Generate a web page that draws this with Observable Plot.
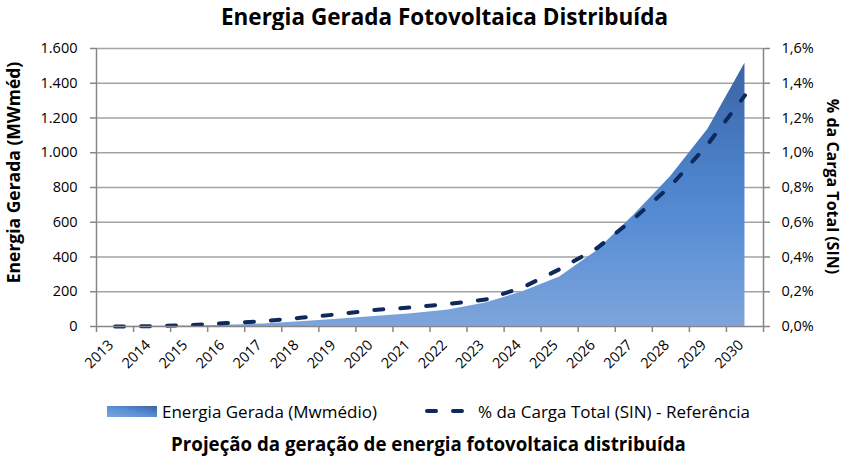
<!DOCTYPE html>
<html>
<head>
<meta charset="utf-8">
<script src="https://cdn.jsdelivr.net/npm/d3@7"></script>
<script src="https://cdn.jsdelivr.net/npm/@observablehq/plot@0.6"></script>
<style>
  html, body { margin: 0; padding: 0; background: #fff; }
  body { width: 845px; height: 468px; position: relative; overflow: hidden; font-family: "Open Sans", Lato, sans-serif; color: #000; }
  #title { position: absolute; top: 2px; left: 22px; width: 845px; text-align: center; font-weight: bold; font-size: 22.5px; line-height: 30px; }
  #chart { position: absolute; top: 30px; left: 0; }
  #legend { position: absolute; top: 400px; left: 0; width: 845px; height: 22px; font-size: 17px; }
  #legend .item { position: absolute; top: 0; display: flex; align-items: center; height: 22px; white-space: nowrap; }
  #caption { position: absolute; top: 431px; left: 6px; width: 845px; text-align: center; font-weight: bold; font-size: 18.7px; line-height: 26px; }
</style>
</head>
<body>
<div id="title"></div>
<div id="chart"></div>
<div id="legend"></div>
<div id="caption"></div>
<script>
// ---- Data ----
const years = [2013, 2014, 2015, 2016, 2017, 2018, 2019, 2020, 2021, 2022, 2023, 2024, 2025, 2026, 2027, 2028, 2029, 2030];
const energiaGerada = [0, 1, 3, 7, 14, 27, 42, 57, 74, 95, 135, 200, 285, 435, 640, 865, 1135, 1515]; // MWmédio
const cargaPct = [0, 0.002, 0.008, 0.02, 0.03, 0.05, 0.07, 0.095, 0.11, 0.13, 0.155, 0.225, 0.33, 0.45, 0.62, 0.81, 1.05, 1.33]; // % da Carga Total (SIN)
const yTicks = [0, 200, 400, 600, 800, 1000, 1200, 1400, 1600];
const yTickLabels = ["0", "200", "400", "600", "800", "1.000", "1.200", "1.400", "1.600"];
const pctTicks = [0, 0.2, 0.4, 0.6, 0.8, 1.0, 1.2, 1.4, 1.6];
const pctTickLabels = ["0,0%", "0,2%", "0,4%", "0,6%", "0,8%", "1,0%", "1,2%", "1,4%", "1,6%"];
const titleText = "Energia Gerada Fotovoltaica Distribuída";
const yLeftTitle = "Energia Gerada (MWméd)";
const yRightTitle = "% da Carga Total (SIN)";
const seriesNames = ["Energia Gerada (Mwmédio)", "% da Carga Total (SIN) - Referência"];
const captionText = "Projeção da geração de energia fotovoltaica distribuída";

// secondary axis: 1,6% corresponds to 1.600 on the primary axis
const pctFactor = yTicks[yTicks.length - 1] / pctTicks[pctTicks.length - 1];

const data = years.map((y, i) => ({ year: y, energia: energiaGerada[i], pct: cargaPct[i] }));
const boundaries = [years[0] - 0.5, ...years.map(y => y + 0.5)];
const leftLabel = new Map(yTicks.map((t, i) => [t, yTickLabels[i]]));
const rightLabel = new Map(pctTicks.map((t, i) => [t * pctFactor, pctTickLabels[i]]));

const lineColor = "#0e2a5c";
const axisColor = "#868686";
const gridColor = "#a3a3a3";
const font = "'Open Sans', Lato, sans-serif";

const H = 362;
const chart = Plot.plot({
  width: 845,
  height: H,
  marginTop: 18,
  marginBottom: 66,
  marginLeft: 96,
  marginRight: 82,
  style: { fontFamily: font, fontSize: "14.5px", color: "#000", background: "#fff", overflow: "visible" },
  x: { type: "linear", domain: [boundaries[0], boundaries[boundaries.length - 1]] },
  y: { domain: [yTicks[0], yTicks[yTicks.length - 1]] },
  marks: [
    Plot.ruleY(yTicks.slice(1), { stroke: gridColor, strokeWidth: 1.3 }),
    Plot.areaY(data, { x: "year", y: "energia", fill: "url(#areaGrad)", curve: "linear" }),
    Plot.lineY(data, { x: "year", y: d => d.pct * pctFactor, stroke: lineColor, strokeWidth: 4, strokeDasharray: "9,17", strokeLinecap: "round", curve: "linear" }),
    Plot.ruleY([yTicks[0]], { stroke: axisColor, strokeWidth: 1.5 }),
    Plot.ruleX([boundaries[0], boundaries[boundaries.length - 1]], { stroke: axisColor, strokeWidth: 1.5 }),
    Plot.axisY(yTicks, { anchor: "left", tickSize: 6, tickPadding: 13, stroke: axisColor, strokeWidth: 1.5, tickFormat: d => leftLabel.get(d), label: null, fontSize: 14.5 }),
    Plot.axisY(yTicks, { anchor: "right", tickSize: 6, tickPadding: 12, stroke: axisColor, strokeWidth: 1.5, tickFormat: d => rightLabel.get(d), label: null, fontSize: 14.5 }),
    Plot.axisX(boundaries, { anchor: "bottom", tickSize: 6, stroke: axisColor, strokeWidth: 1.5, tickFormat: () => "", label: null }),
    Plot.text(years, { x: d => d, frameAnchor: "bottom", text: d => String(d), rotate: -45, textAnchor: "end", lineAnchor: "middle", dx: -4, dy: 16, fontSize: 14.5 }),
    Plot.text([yLeftTitle], { frameAnchor: "left", text: d => d, rotate: -90, textAnchor: "middle", dx: -82, dy: -15, fontWeight: "bold", fontSize: 17.5 }),
    Plot.text([yRightTitle], { frameAnchor: "right", text: d => d, rotate: 90, textAnchor: "middle", dx: 69, dy: -1, fontWeight: "bold", fontSize: 16 })
  ]
});

// gradient for the area (vertical, darker at the top)
const yScale = chart.scale("y");
const yBottom = yScale.apply(yTicks[0]);
const yTop = yScale.apply(yTicks[yTicks.length - 1]);
const defs = d3.select(chart).insert("defs", ":first-child");
const grad = defs.append("linearGradient").attr("id", "areaGrad")
  .attr("gradientUnits", "userSpaceOnUse")
  .attr("x1", 0).attr("x2", 0).attr("y1", yBottom).attr("y2", yTop + 10);
[[0, "#7ea5db"], [0.35, "#5a8fd6"], [0.6, "#4a80c8"], [1, "#3a62a2"]].forEach(([o, c]) =>
  grad.append("stop").attr("offset", o).attr("stop-color", c));

document.getElementById("chart").appendChild(chart);
document.getElementById("title").textContent = titleText;
document.getElementById("caption").textContent = captionText;

// legend
const legend = d3.select("#legend");
const it1 = legend.append("div").attr("class", "item").style("left", "107px");
const s1 = it1.append("svg").attr("width", 52).attr("height", 14).style("margin-right", "3px");
const lg = s1.append("defs").append("linearGradient").attr("id", "legGrad").attr("x1", 0).attr("x2", 1).attr("y1", 1).attr("y2", 0);
[[0, "#7ea5db"], [0.5, "#5a8fd6"], [1, "#3a62a2"]].forEach(([o, c]) => lg.append("stop").attr("offset", o).attr("stop-color", c));
s1.append("rect").attr("x", 0).attr("y", 2).attr("width", 50).attr("height", 11).attr("fill", "url(#legGrad)");
it1.append("span").text(seriesNames[0]);

const it2 = legend.append("div").attr("class", "item").style("left", "423px");
const s2 = it2.append("svg").attr("width", 50).attr("height", 14).style("margin-right", "5px");
s2.append("line").attr("x1", 4).attr("x2", 44).attr("y1", 7).attr("y2", 7)
  .attr("stroke", lineColor).attr("stroke-width", 4).attr("stroke-dasharray", "9,17").attr("stroke-linecap", "round");
it2.append("span").text(seriesNames[1]);
</script>
</body>
</html>
